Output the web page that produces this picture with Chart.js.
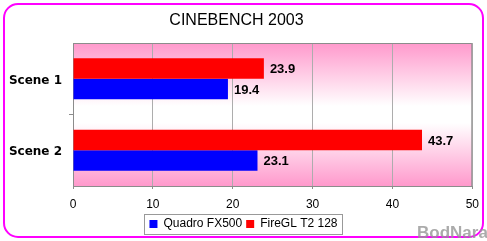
<!DOCTYPE html>
<html>
<head>
<meta charset="utf-8">
<script src="https://cdn.jsdelivr.net/npm/chart.js@4/dist/chart.umd.min.js"></script>
<style>
  html, body { margin: 0; padding: 0; background: #fff; }
  #wrap { width: 487px; height: 241px; }
</style>
</head>
<body>
<div id="wrap"><canvas id="c" width="487" height="241"></canvas></div>
<script>
// ---- data ----
const chartTitle = 'CINEBENCH 2003';
const categories = ['Scene 1', 'Scene 2'];
const quadroName = 'Quadro FX500';
const fireglName = 'FireGL T2 128';
const quadroValues = [19.4, 23.1];
const fireglValues = [23.9, 43.7];
const xMin = 0, xMax = 50, xStep = 10;
const watermark = 'BodNara';

const FONT = "'Liberation Sans', Arial, sans-serif";
Chart.defaults.font.family = FONT;
Chart.defaults.color = '#000';

const decor = {
  id: 'decor',
  afterLayout(chart) {
    if (chart.legend) { chart.legend.left += 7; chart.legend.right += 7; }
  },
  beforeDraw(chart) {
    const ctx = chart.ctx, a = chart.chartArea;
    ctx.save();
    ctx.fillStyle = '#fff';
    ctx.fillRect(0, 0, chart.width, chart.height);
    // plot background gradient
    const g = ctx.createLinearGradient(0, a.top, 0, a.bottom);
    g.addColorStop(0, 'rgb(255,153,204)');
    g.addColorStop(0.44, '#ffffff');
    g.addColorStop(0.56, '#ffffff');
    g.addColorStop(1, 'rgb(255,153,204)');
    ctx.fillStyle = g;
    ctx.fillRect(a.left, a.top, a.right - a.left, a.bottom - a.top);
    // legend frame
    const hb = chart.legend && chart.legend.legendHitBoxes;
    if (hb && hb.length) {
      let l = Infinity, r = -Infinity;
      hb.forEach(h => { l = Math.min(l, h.left); r = Math.max(r, h.left + h.width); });
      const cy = hb[0].top + hb[0].height / 2;
      ctx.strokeStyle = '#999';
      ctx.lineWidth = 1;
      ctx.strokeRect(Math.round(l - 5) + 0.5, Math.round(cy - 10) + 0.5, Math.round(r - l + 10), 20);
    }
    ctx.restore();
  },
  beforeDatasetsDraw(chart) {
    const ctx = chart.ctx, a = chart.chartArea;
    ctx.save();
    ctx.strokeStyle = '#8c8c8c';
    ctx.lineWidth = 1;
    ctx.beginPath();
    ctx.moveTo(a.left, a.top + 0.5);
    ctx.lineTo(a.right - 0.5, a.top + 0.5);
    ctx.lineTo(a.right - 0.5, a.bottom);
    ctx.stroke();
    ctx.restore();
  },
  afterDatasetsDraw(chart) {
    const ctx = chart.ctx;
    ctx.save();
    ctx.font = 'bold 13px ' + FONT;
    ctx.fillStyle = '#000';
    ctx.textAlign = 'left';
    ctx.textBaseline = 'middle';
    chart.data.datasets.forEach((ds, i) => {
      chart.getDatasetMeta(i).data.forEach((el, j) => {
        ctx.fillText(String(ds.data[j]), el.x + 6, el.y + 1);
      });
    });
    ctx.restore();
  },
  afterDraw(chart) {
    const ctx = chart.ctx;
    ctx.save();
    // outer rounded frame
    ctx.strokeStyle = '#ff00ff';
    ctx.lineWidth = 2;
    ctx.beginPath();
    ctx.roundRect(4, 4, 479, 233, 14);
    ctx.stroke();
    // watermark
    ctx.font = 'bold 17px ' + FONT;
    ctx.fillStyle = 'rgba(150,150,150,0.8)';
    ctx.textAlign = 'left';
    ctx.textBaseline = 'alphabetic';
    ctx.fillText(watermark, 417, 238);
    ctx.restore();
  }
};

new Chart(document.getElementById('c'), {
  type: 'bar',
  data: {
    labels: categories,
    datasets: [
      { label: fireglName, data: fireglValues, backgroundColor: '#ff0000', categoryPercentage: 0.57, barPercentage: 1 },
      { label: quadroName, data: quadroValues, backgroundColor: '#0000ff', categoryPercentage: 0.57, barPercentage: 1 }
    ]
  },
  options: {
    indexAxis: 'y',
    responsive: false,
    animation: false,
    devicePixelRatio: 1,
    layout: { padding: { left: 0, right: 14, top: 0, bottom: 1 } },
    plugins: {
      tooltip: { enabled: false },
      title: {
        display: true,
        text: chartTitle,
        font: { size: 16, weight: 'normal' },
        color: '#000',
        padding: { top: 11, bottom: 12.8 }
      },
      legend: {
        display: true,
        position: 'bottom',
        reverse: true,
        labels: {
          boxWidth: 8, boxHeight: 8, padding: 4,
          font: { size: 12 }, color: '#000'
        }
      }
    },
    scales: {
      x: {
        min: xMin, max: xMax,
        ticks: { stepSize: xStep, font: { size: 12 }, color: '#000', padding: 8, maxRotation: 0 },
        grid: { color: '#adadad', tickColor: '#8c8c8c', tickLength: 3, drawTicks: true },
        border: { display: true, color: '#8c8c8c' },
        afterFit(s) { s.height = 28; }
      },
      y: {
        ticks: { font: { family: "'DejaVu Sans', sans-serif", size: 12, weight: 'bold' }, color: '#000', padding: 7, labelOffset: 2 },
        grid: {
          drawOnChartArea: false, tickLength: 4, color: '#8c8c8c',
          tickColor: (c) => (c.index === 1 ? '#8c8c8c' : 'rgba(0,0,0,0)')
        },
        border: { display: true, color: '#8c8c8c' },
        afterFit(s) { s.width = 73; }
      }
    }
  },
  plugins: [decor]
});
</script>
</body>
</html>
